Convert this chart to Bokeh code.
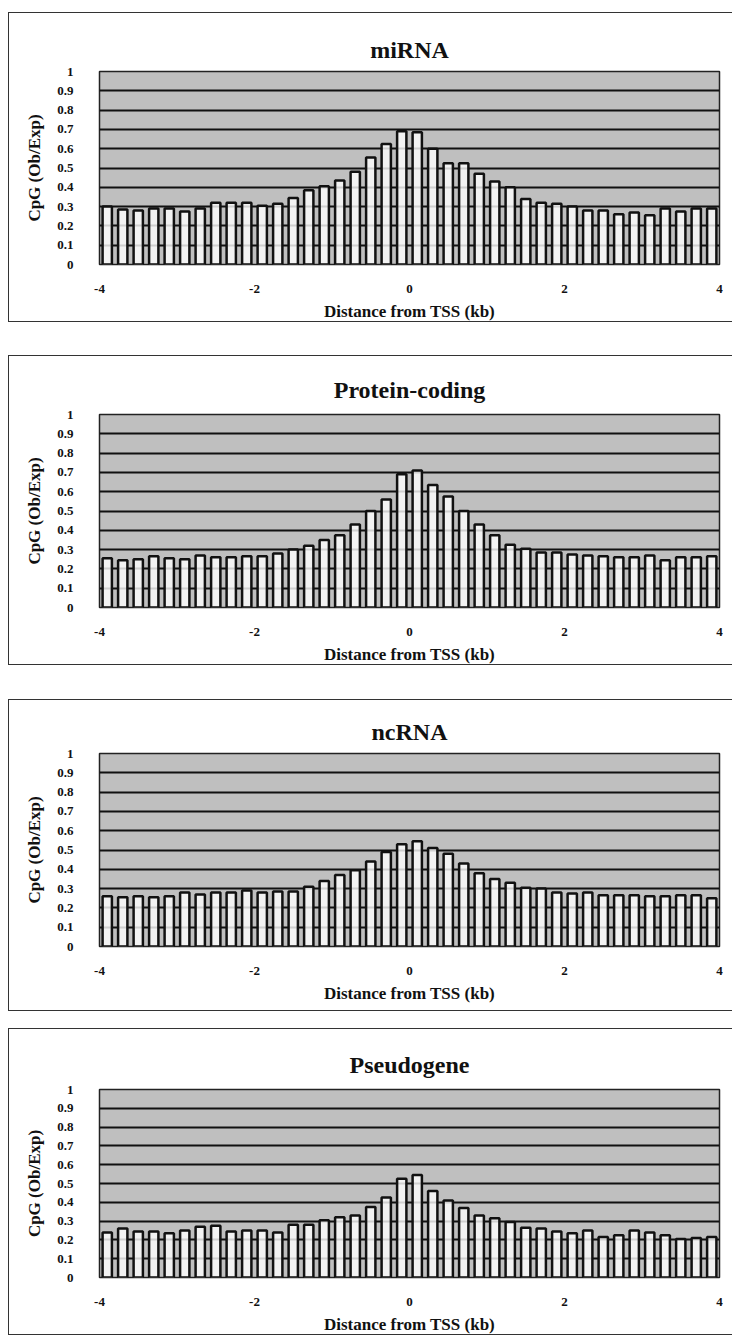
from bokeh.plotting import figure
from bokeh.layouts import column, row
from bokeh.models import Range1d, FixedTicker, Spacer
from bokeh.embed import file_html
from bokeh.resources import INLINE

# ---------------- data ----------------
bin_centers = [-3.9, -3.7, -3.5, -3.3, -3.1, -2.9, -2.7, -2.5, -2.3, -2.1,
               -1.9, -1.7, -1.5, -1.3, -1.1, -0.9, -0.7, -0.5, -0.3, -0.1,
               0.1, 0.3, 0.5, 0.7, 0.9, 1.1, 1.3, 1.5, 1.7, 1.9,
               2.1, 2.3, 2.5, 2.7, 2.9, 3.1, 3.3, 3.5, 3.7, 3.9]

mirna = [0.30, 0.285, 0.28, 0.29, 0.29, 0.275, 0.29, 0.32, 0.32, 0.32,
         0.305, 0.315, 0.345, 0.385, 0.405, 0.435, 0.48, 0.555, 0.625, 0.69,
         0.685, 0.60, 0.525, 0.525, 0.47, 0.43, 0.40, 0.34, 0.32, 0.315,
         0.30, 0.28, 0.28, 0.26, 0.27, 0.255, 0.29, 0.275, 0.29, 0.29]

protein_coding = [0.255, 0.245, 0.25, 0.265, 0.255, 0.25, 0.27, 0.26, 0.26, 0.265,
                  0.265, 0.28, 0.30, 0.32, 0.35, 0.375, 0.43, 0.50, 0.56, 0.69,
                  0.71, 0.635, 0.575, 0.50, 0.43, 0.375, 0.325, 0.305, 0.285, 0.285,
                  0.275, 0.27, 0.265, 0.26, 0.26, 0.27, 0.245, 0.26, 0.26, 0.265]

ncrna = [0.26, 0.255, 0.26, 0.255, 0.26, 0.28, 0.27, 0.28, 0.28, 0.29,
         0.28, 0.285, 0.285, 0.31, 0.34, 0.37, 0.395, 0.44, 0.49, 0.53,
         0.545, 0.51, 0.48, 0.43, 0.38, 0.35, 0.33, 0.305, 0.30, 0.28,
         0.275, 0.28, 0.265, 0.265, 0.265, 0.26, 0.26, 0.265, 0.265, 0.25]

pseudogene = [0.24, 0.26, 0.245, 0.245, 0.235, 0.25, 0.27, 0.275, 0.245, 0.25,
              0.25, 0.24, 0.28, 0.28, 0.305, 0.32, 0.33, 0.375, 0.425, 0.525,
              0.545, 0.46, 0.41, 0.37, 0.33, 0.315, 0.295, 0.265, 0.26, 0.245,
              0.235, 0.25, 0.215, 0.225, 0.25, 0.24, 0.225, 0.205, 0.21, 0.215]

titles = ["miRNA", "Protein-coding", "ncRNA", "Pseudogene"]
series = [mirna, protein_coding, ncrna, pseudogene]

x_tick_vals = [-4, -2, 0, 2, 4]
x_tick_labels = ["-4", "-2", "0", "2", "4"]
y_tick_vals = [0, 0.1, 0.2, 0.3, 0.4, 0.5, 0.6, 0.7, 0.8, 0.9, 1.0]
y_tick_labels = ["0", "0.1", "0.2", "0.3", "0.4", "0.5", "0.6", "0.7", "0.8", "0.9", "1"]

x_title = "Distance from TSS (kb)"
y_title = "CpG (Ob/Exp)"

# ---------------- layout per panel ----------------
FONT = "Liberation Serif"
panel_heights = [310, 310, 312, 307]
frame_tops = [58, 58, 53, 60]
frame_heights = [195, 194, 191, 192]
title_standoffs = [18, 23, 17, 23]
gaps = [12, 33, 34, 17]

children = []
for i, (ttl, vals) in enumerate(zip(titles, series)):
    H = panel_heights[i]
    top = frame_tops[i]
    bottom = H - 2 - top - frame_heights[i]
    p = figure(width=724, height=H, output_backend="svg", toolbar_location=None,
               x_range=Range1d(-4, 4), y_range=Range1d(0, 1),
               min_border_left=90, min_border_right=14,
               min_border_top=top, min_border_bottom=bottom,
               background_fill_color="#bfbfbf",
               border_fill_color="white",
               styles={"border-top": "1px solid #333",
                       "border-left": "1px solid #333",
                       "border-bottom": "1px solid #333"})
    p.vbar(x=bin_centers, top=vals, width=0.12, bottom=0,
           fill_color="white", fill_alpha=0.8,
           line_color="#111111", line_width=2.5)

    p.title.text = ttl
    p.title.align = "center"
    p.title.text_font = FONT
    p.title.text_font_size = "24px"
    p.title.text_font_style = "bold"
    p.title.text_color = "#111111"
    p.title.standoff = title_standoffs[i]

    p.outline_line_color = "#222222"
    p.outline_line_width = 1.5

    p.xgrid.grid_line_color = None
    p.ygrid.ticker = FixedTicker(ticks=y_tick_vals)
    p.ygrid.grid_line_color = "#111111"
    p.ygrid.grid_line_width = 2

    xa = p.xaxis[0]
    xa.ticker = FixedTicker(ticks=x_tick_vals)
    xa.major_label_overrides = dict(zip(x_tick_vals, x_tick_labels))
    xa.axis_label = x_title
    ya = p.yaxis[0]
    ya.ticker = FixedTicker(ticks=y_tick_vals)
    ya.major_label_overrides = dict(zip(y_tick_vals, y_tick_labels))
    ya.axis_label = y_title

    for ax in (xa, ya):
        ax.axis_line_color = None
        ax.major_tick_line_color = None
        ax.minor_tick_line_color = None
        ax.major_label_text_font = FONT
        ax.major_label_text_font_style = "bold"
        ax.major_label_text_font_size = "13px"
        ax.major_label_text_color = "#111111"
        ax.axis_label_text_font = FONT
        ax.axis_label_text_font_style = "bold"
        ax.axis_label_text_font_size = "17px"
        ax.axis_label_text_color = "#111111"
    xa.major_label_standoff = 14
    xa.axis_label_standoff = 6
    ya.major_label_standoff = 20
    ya.axis_label_standoff = 10

    children.append(Spacer(height=gaps[i], width=10))
    children.append(p)

layout = row(Spacer(width=8, height=10), column(*children, spacing=0), spacing=0)
open("out.html", "w").write(file_html(layout, INLINE))
